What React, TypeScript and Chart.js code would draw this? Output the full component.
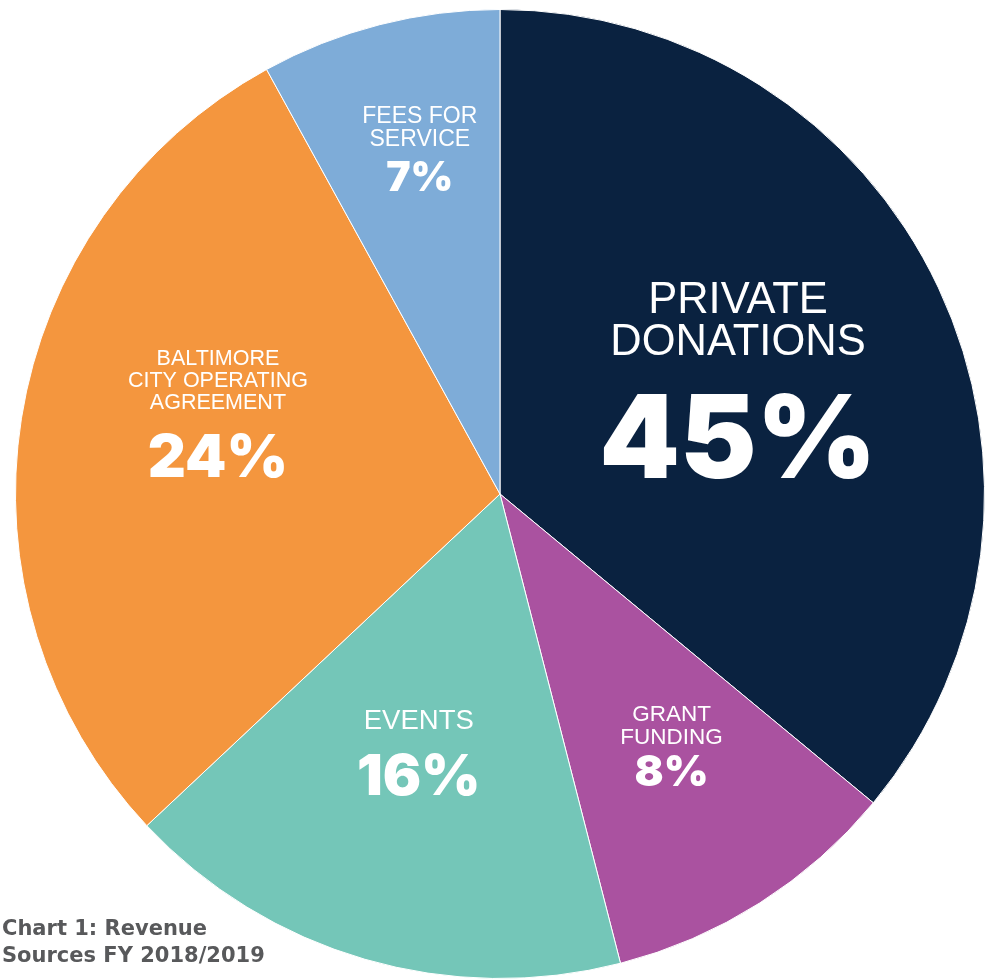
import React, { useEffect, useRef } from "react";
import { Chart, registerables } from "chart.js";

Chart.register(...registerables);

// Data
const categories = [
  "Private Donations",
  "Grant Funding",
  "Events",
  "Baltimore City Operating Agreement",
  "Fees for Service",
];
// Slice shares as drawn (measured from slice angles)
const sliceShares = [36, 10, 17, 29, 8];
// Percentages printed on the slices
const percentLabels = ["45%", "8%", "16%", "24%", "7%"];
// Name text printed on the slices
const nameLines = [
  ["PRIVATE", "DONATIONS"],
  ["GRANT", "FUNDING"],
  ["EVENTS"],
  ["BALTIMORE", "CITY OPERATING", "AGREEMENT"],
  ["FEES FOR", "SERVICE"],
];
const sliceColors = ["#0a2240", "#aa52a0", "#74c6b8", "#f4963e", "#7eacd8"];
const captionLines = ["Chart 1: Revenue", "Sources FY 2018/2019"];

// Label layout (style only): angle fraction within slice, radius fraction,
// name font size, name baselines, percent font size, percent baseline (relative to anchor)
const labelLayout = [
  { a: 0.498, f: 0.544, nameSize: 43.5, nameDy: [-67.5, -25.5], pctSize: 115, pctDy: 97.5 },
  { a: 0.45, f: 0.63, nameSize: 22.5, nameDy: [-25, -2], pctSize: 43, pctDy: 40 },
  { a: 0.52, f: 0.56, nameSize: 27.5, nameDy: [-24], pctSize: 57, pctDy: 42 },
  { a: 0.565, f: 0.605, nameSize: 21.5, nameDy: [-49.5, -27.5, -5.5], pctSize: 59, pctDy: 62.5 },
  { a: 0.545, f: 0.73, nameSize: 23, nameDy: [-26.5, -3.5], pctSize: 41, pctDy: 41.5 },
];

const sliceLabelPlugin = {
  id: "sliceLabels",
  afterDatasetsDraw(chart: any) {
    const ctx = chart.ctx;
    const meta = chart.getDatasetMeta(0);
    ctx.save();
    ctx.fillStyle = "#ffffff";
    ctx.textAlign = "center";
    ctx.textBaseline = "alphabetic";
    meta.data.forEach((arc: any, i: number) => {
      const p = arc.getProps(["x", "y", "startAngle", "endAngle", "outerRadius"], true);
      const L = labelLayout[i];
      const ang = p.startAngle + L.a * (p.endAngle - p.startAngle);
      const cx = p.x + Math.cos(ang) * p.outerRadius * L.f;
      const cy = p.y + Math.sin(ang) * p.outerRadius * L.f;
      ctx.font = `400 ${L.nameSize}px "Liberation Sans", Arial, sans-serif`;
      nameLines[i].forEach((t, j) => {
        ctx.fillText(t, cx, cy + L.nameDy[j]);
      });
      ctx.font = `900 ${L.pctSize}px Inter, "DejaVu Sans", sans-serif`;
      ctx.fillText(percentLabels[i], cx, cy + L.pctDy);
    });
    ctx.restore();
  },
};

export default function App() {
  const ref = useRef<HTMLCanvasElement | null>(null);
  useEffect(() => {
    if (!ref.current) return;
    const chart = new Chart(ref.current, {
      type: "pie",
      data: {
        labels: categories,
        datasets: [
          {
            data: sliceShares,
            backgroundColor: sliceColors,
            borderColor: "#ffffff",
            borderWidth: 1,
          },
        ],
      },
      options: {
        responsive: false,
        animation: false,
        layout: { padding: { left: 15, right: 11, top: 9, bottom: 0 } },
        plugins: {
          legend: { display: false },
          tooltip: { enabled: false },
          title: { display: false },
        },
      },
      plugins: [sliceLabelPlugin],
    });
    return () => chart.destroy();
  }, []);

  return (
    <div style={{ position: "fixed", left: 0, top: 0, width: 996, height: 979, background: "#ffffff" }}>
      <canvas ref={ref} width={996} height={979} style={{ display: "block" }} />
      <div
        style={{
          position: "absolute",
          left: 2,
          top: 915,
          fontFamily: '"DejaVu Sans", sans-serif',
          fontWeight: 700,
          fontSize: 21,
          lineHeight: "27px",
          color: "#58595b",
        }}
      >
        {captionLines.map((t) => (
          <div key={t}>{t}</div>
        ))}
      </div>
    </div>
  );
}
